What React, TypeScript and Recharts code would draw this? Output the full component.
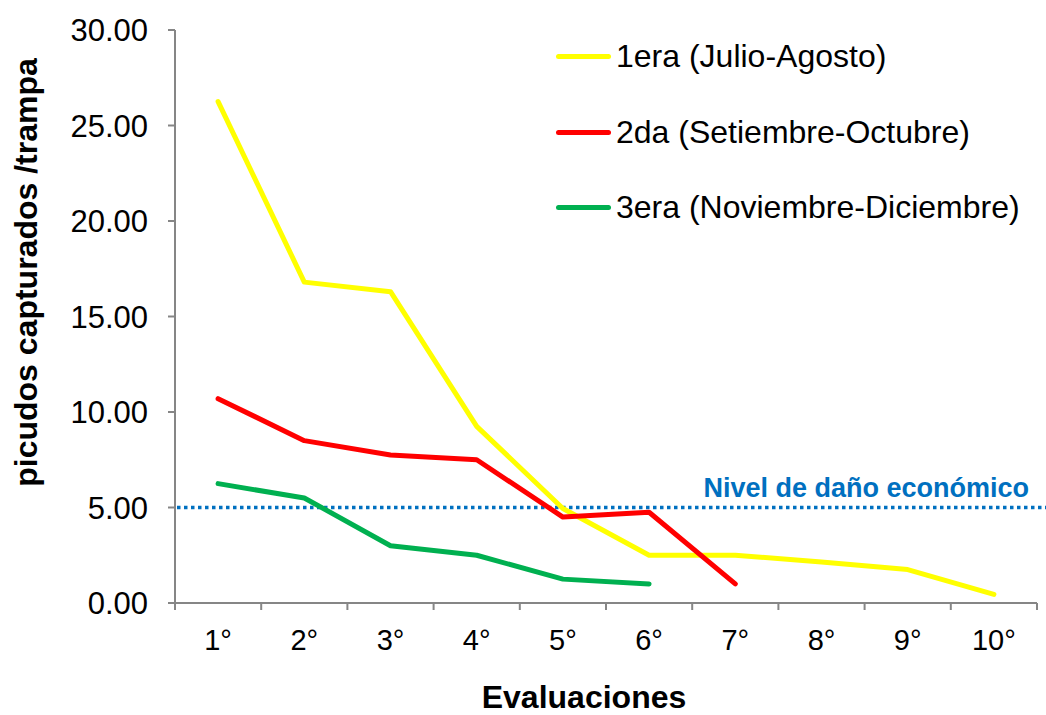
import {
  Label,
  Legend,
  Line,
  LineChart,
  ReferenceLine,
  XAxis,
  YAxis,
} from "recharts";

const FONT = '"Liberation Sans", Arial, sans-serif';

const evaluaciones = ["1°", "2°", "3°", "4°", "5°", "6°", "7°", "8°", "9°", "10°"];
const primera = [26.25, 16.8, 16.3, 9.25, 4.95, 2.5, 2.5, 2.15, 1.75, 0.45];
const segunda = [10.7, 8.5, 7.75, 7.5, 4.5, 4.75, 1.0, null, null, null];
const tercera = [6.25, 5.5, 3.0, 2.5, 1.25, 1.0, null, null, null, null];
const yTicks = [0, 5, 10, 15, 20, 25, 30];
const umbral = 5;

const series = [
  { key: "primera", name: "1era (Julio-Agosto)", color: "#FFFF00" },
  { key: "segunda", name: "2da (Setiembre-Octubre)", color: "#FF0000" },
  { key: "tercera", name: "3era (Noviembre-Diciembre)", color: "#00B050" },
];

const data = evaluaciones.map((e, i) => ({
  eval: e,
  primera: primera[i],
  segunda: segunda[i],
  tercera: tercera[i],
}));

const W = 1046;
const H = 715;
const margin = { top: 30, right: 9, bottom: 0, left: 0 };
const Y_W = 175;
const X_H = 112;
const BAND = (W - Y_W - margin.right) / evaluaciones.length;
const X_MARGIN = 26;
const AXIS = "#868686";

function XTick(props: any) {
  const { x, y, payload, index } = props;
  const axisY = y - X_MARGIN;
  const left = x - BAND / 2;
  return (
    <g>
      <line x1={left} y1={axisY} x2={left} y2={axisY + 7} stroke={AXIS} strokeWidth={2} />
      {index === evaluaciones.length - 1 && (
        <line x1={x + BAND / 2} y1={axisY} x2={x + BAND / 2} y2={axisY + 7} stroke={AXIS} strokeWidth={2} />
      )}
      <text x={x} y={y} dy="0.71em" textAnchor="middle" fontSize={29} fontFamily={FONT} fill="#000">
        {payload.value}
      </text>
    </g>
  );
}

function LegendBox() {
  return (
    <div style={{ fontFamily: FONT }}>
      {series.map((s) => (
        <div key={s.key} style={{ display: "flex", alignItems: "center", height: 75.5 }}>
          <div style={{ width: 55, height: 5, borderRadius: 3, background: s.color, marginRight: 5 }} />
          <span style={{ fontSize: 32, color: "#000", whiteSpace: "nowrap" }}>{s.name}</span>
        </div>
      ))}
    </div>
  );
}

export default function App() {
  return (
    <div style={{ position: "absolute", left: 0, top: 0, background: "#fff" }}>
      <LineChart width={W} height={H} data={data} margin={margin}>
        <XAxis
          dataKey="eval"
          scale="band"
          height={X_H}
          axisLine={{ stroke: AXIS, strokeWidth: 2 }}
          tickLine={false}
          tickSize={0}
          tickMargin={X_MARGIN}
          tick={<XTick />}
          interval={0}
        >
          <Label
            content={(p: any) => {
              const vb = p.viewBox;
              return (
                <text
                  x={vb.x + vb.width / 2 - 22}
                  y={vb.y + vb.height - 7}
                  textAnchor="middle"
                  fontSize={32}
                  fontWeight="bold"
                  fontFamily={FONT}
                  fill="#000"
                >
                  Evaluaciones
                </text>
              );
            }}
          />
        </XAxis>
        <YAxis
          width={Y_W}
          domain={[0, 30]}
          ticks={yTicks}
          interval={0}
          tickFormatter={(v: number) => v.toFixed(2)}
          axisLine={{ stroke: AXIS, strokeWidth: 2 }}
          tickLine={{ stroke: AXIS, strokeWidth: 2 }}
          tickSize={7}
          tickMargin={20}
          tick={{ fontSize: 31, fontFamily: FONT, fill: "#000" }}
        >
          <Label
            content={(p: any) => {
              const vb = p.viewBox;
              const cx = 37;
              const cy = vb.y + vb.height / 2 - 44;
              return (
                <text
                  x={cx}
                  y={cy}
                  transform={`rotate(-90 ${cx} ${cy})`}
                  textAnchor="middle"
                  fontSize={32}
                  fontWeight="bold"
                  fontFamily={FONT}
                  fill="#000"
                >
                  picudos capturados /trampa
                </text>
              );
            }}
          />
        </YAxis>
        <ReferenceLine
          y={umbral}
          shape={(p: any) => (
            <line
              x1={p.x1 + 2}
              y1={p.y1}
              x2={p.x2 + 9}
              y2={p.y2}
              stroke="#0070C0"
              strokeWidth={3.5}
              strokeDasharray="3.5 3.5"
            />
          )}
          label={(p: any) => {
            const vb = p.viewBox;
            return (
              <text
                x={vb.x + vb.width - 8}
                y={vb.y - 11}
                textAnchor="end"
                fontSize={27}
                fontWeight="bold"
                fontFamily={FONT}
                fill="#0070C0"
              >
                Nivel de daño económico
              </text>
            );
          }}
        />
        {series.map((s) => (
          <Line
            key={s.key}
            type="linear"
            dataKey={s.key}
            name={s.name}
            stroke={s.color}
            strokeWidth={5}
            strokeLinecap="round"
            strokeLinejoin="round"
            dot={false}
            activeDot={false}
            isAnimationActive={false}
          />
        ))}
        <Legend
          layout="horizontal"
          verticalAlign="middle"
          align="center"
          content={<LegendBox />}
          wrapperStyle={{ top: 19, left: 556, width: 490 }}
        />
      </LineChart>
    </div>
  );
}
